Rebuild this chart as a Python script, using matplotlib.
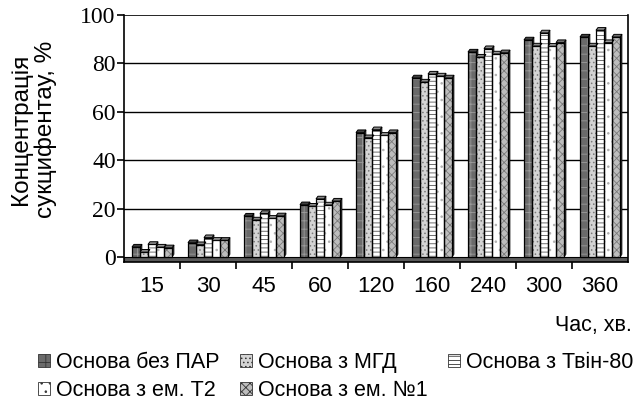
import numpy as np
import matplotlib
matplotlib.use("Agg")
import matplotlib.pyplot as plt
from matplotlib.patches import Patch

# час, хв
times = ["15", "30", "45", "60", "120", "160", "240", "300", "360"]
series = ["Основа без ПАР", "Основа з МГД", "Основа з Твін-80",
          "Основа з ем. Т2", "Основа з ем. №1"]

bez_par = [4.1, 5.9, 16.9, 21.6, 51.4, 74.0, 84.7, 89.7, 90.9]
mgd = [2.0, 5.1, 15.3, 21.0, 49.3, 72.3, 82.6, 87.2, 87.2]
tvin80 = [5.2, 8.0, 18.0, 24.0, 52.6, 75.6, 86.1, 92.6, 93.7]
em_t2 = [4.1, 6.9, 16.0, 21.5, 50.3, 74.8, 83.9, 87.1, 88.6]
em_n1 = [3.8, 6.9, 17.0, 23.1, 51.4, 74.0, 84.4, 88.6, 90.9]
values = [bez_par, mgd, tvin80, em_t2, em_n1]

faces = ["#6a6a6a", "#d4d4d4", "#ffffff", "#ffffff", "#bdbdbd"]
hatches = ["++", "....", "----", "..", "xxxx"]
hcols = ["#9a9a9a", "#7a7a7a", "#555555", "#b0b0b0", "#7a7a7a"]
tops = ["#404040", "#8a8a8a", "#8a8a8a", "#9a9a9a", "#707070"]

plt.rcParams["font.family"] = ["Liberation Sans", "DejaVu Sans"]
plt.rcParams["hatch.linewidth"] = 0.6

fig = plt.figure(figsize=(6.37, 4.05), dpi=100)
ax = fig.add_axes([124 / 637, 1 - 262 / 405, 504 / 637, 247 / 405])

x = np.arange(len(times))
w = 0.143
floor = -2.07
ax.set_xlim(-0.5, len(times) - 0.5)
ax.set_ylim(floor, 100)

# gridlines
for g in [20, 40, 60, 80]:
    ax.axhline(g, color="black", lw=1, zorder=1)
ax.axhline(100, color="black", lw=1.2, zorder=1)
# floor
ax.axhspan(floor, 0, facecolor="#5a5a5a", edgecolor="black", lw=0.8, zorder=2)

dx, dy = 0.035, 1.1
for i, vals in enumerate(values):
    pos = x + (i - 2) * w
    ax.bar(pos, vals, w, color=faces[i], hatch=hatches[i],
           edgecolor=hcols[i], linewidth=0, zorder=3)
    ax.bar(pos, vals, w, fill=False, edgecolor="black", linewidth=0.9, zorder=4)
    for p, v in zip(pos, vals):
        l, r = p - w / 2, p + w / 2
        ax.fill([l, l + dx, r + dx, r], [v, v + dy, v + dy, v],
                facecolor=tops[i], edgecolor="black", lw=0.7, zorder=4)
        ax.fill([r, r + dx, r + dx, r], [0, dy, v + dy, v],
                facecolor="#333333", edgecolor="black", lw=0.5, zorder=2.5)

ax.spines["top"].set_visible(False)
for s in ["left", "right", "bottom"]:
    ax.spines[s].set_linewidth(1.2)

ax.set_yticks([0, 20, 40, 60, 80, 100])
ax.set_yticklabels(["0", "20", "40", "60", "80", "100"],
                   family=["Liberation Serif"], fontsize=17)
ax.tick_params(axis="y", direction="out", length=5, width=1.2, pad=1)

ax.set_xticks(x)
ax.set_xticklabels(times, fontsize=16)
ax.set_xticks(x[:-1] + 0.5, minor=True)
ax.tick_params(axis="x", which="major", length=0, pad=10)
ax.tick_params(axis="x", which="minor", direction="out", length=5, width=1.2)

fig.text(0.053, 0.68, "Концентрація\nсукцифентау, %", rotation=90,
         ha="center", va="center", fontsize=17.5, linespacing=1.15)
fig.text(555 / 637, 1 - 326 / 405, "Час, хв.", ha="left", va="center",
         fontsize=15.5)

handles = [Patch(facecolor=faces[i], hatch=hatches[i], edgecolor="#333333",
                 linewidth=0.6) for i in range(5)]
order = [0, 3, 1, 4, 2]
fig.legend([handles[k] for k in order], [series[k] for k in order],
           ncol=3, loc="upper left", bbox_to_anchor=(38 / 637, 1 - 352 / 405),
           frameon=False, fontsize=15.5, handlelength=0.55, handleheight=0.55,
           handletextpad=0.28, columnspacing=0.95, labelspacing=0.33,
           borderaxespad=0, borderpad=0)

fig.savefig("out.png", dpi=100)
